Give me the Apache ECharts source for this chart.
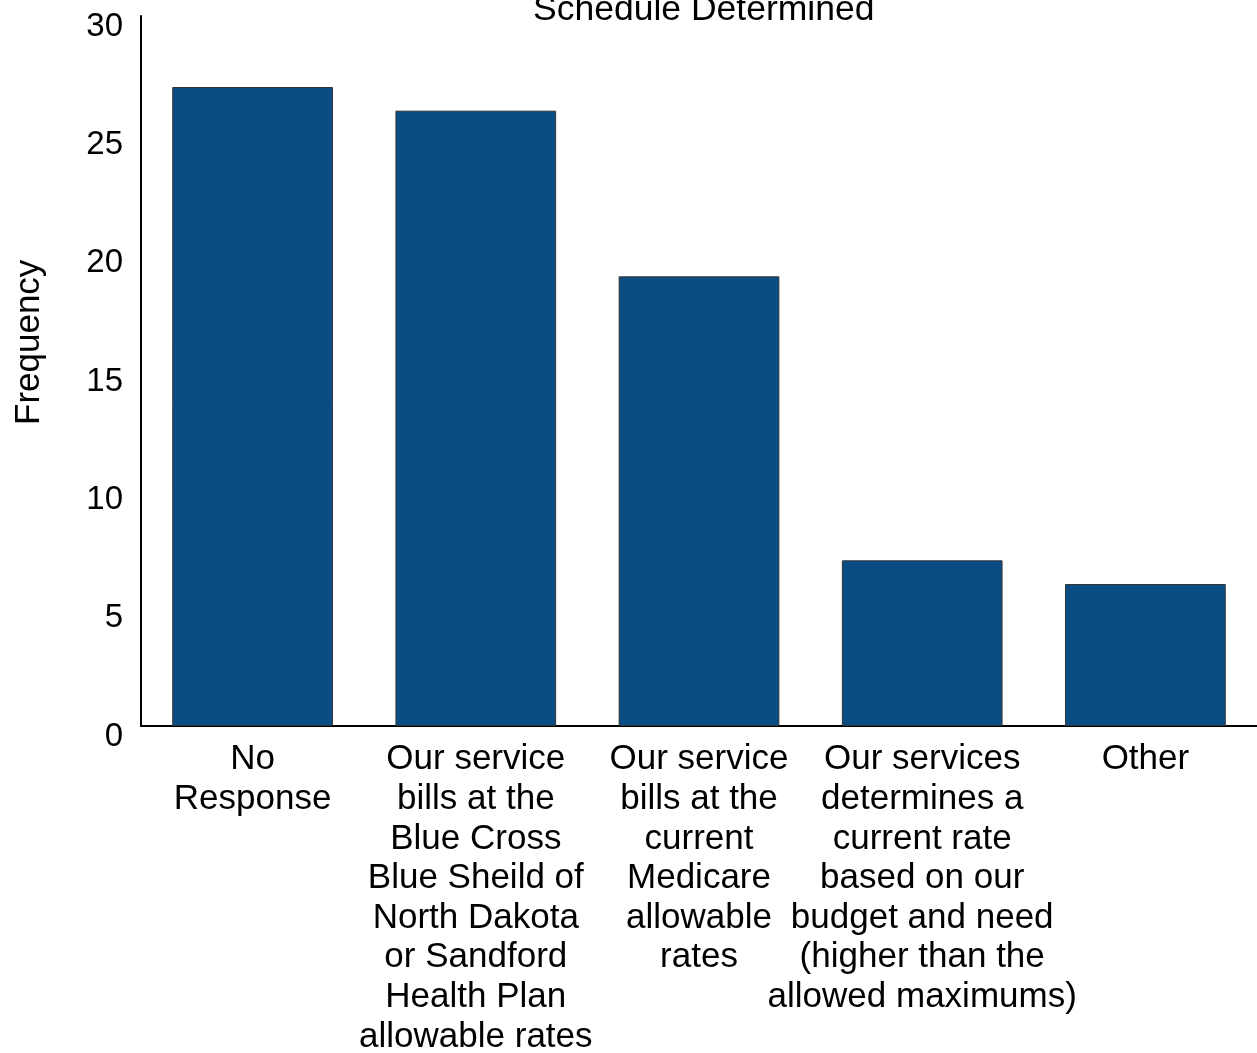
<!DOCTYPE html>
<html>
<head>
<meta charset="utf-8">
<script src="https://cdn.jsdelivr.net/npm/echarts@6/dist/echarts.min.js"></script>
<style>
    html, body { margin: 0; padding: 0; background: #fff; }
    #chart { width: 1257px; height: 1053px; }
</style>
</head>
<body>
<div id="chart"></div>
<script>
// 类别与数值
var categories = [
    'No\nResponse',
    'Our service\nbills at the\nBlue Cross\nBlue Sheild of\nNorth Dakota\nor Sandford\nHealth Plan\nallowable rates',
    'Our service\nbills at the\ncurrent\nMedicare\nallowable\nrates',
    'Our services\ndetermines a\ncurrent rate\nbased on our\nbudget and need\n(higher than the\nallowed maximums)',
    'Other'
];
var frequency = [27, 26, 19, 7, 6];
var yTicks = [0, 5, 10, 15, 20, 25, 30];

var FONT = '"Liberation Sans", Arial, sans-serif';

let chart = echarts.init(document.getElementById('chart'));

let option = {
    animation: false,
    textStyle: { fontFamily: FONT },
    grid: {
        left: 141,
        right: 0,
        top: 16,
        bottom: 327,
        containLabel: false,
        outerBoundsMode: 'none'
    },
    graphic: [
        {
            type: 'text',
            left: 533,
            top: -8,
            style: {
                text: 'Schedule Determined',
                font: '35.5px ' + FONT,
                fill: '#000'
            }
        },
        {
            type: 'text',
            x: 12,
            y: 425,
            rotation: Math.PI / 2,
            style: {
                text: 'Frequency',
                font: '35px ' + FONT,
                fill: '#000'
            }
        }
    ],
    xAxis: {
        type: 'category',
        data: categories,
        axisLine: { show: true, lineStyle: { color: '#000', width: 2 } },
        axisTick: { show: false },
        axisLabel: {
            interval: 0,
            color: '#000',
            fontSize: 35,
            lineHeight: 39.6,
            margin: 14,
            fontFamily: FONT
        }
    },
    yAxis: {
        type: 'value',
        min: yTicks[0],
        max: yTicks[yTicks.length - 1],
        interval: 5,
        splitLine: { show: false },
        axisLine: { show: true, lineStyle: { color: '#000', width: 2 } },
        axisTick: { show: false },
        axisLabel: {
            color: '#000',
            margin: 18,
            formatter: '{v|{value}}',
            rich: {
                v: {
                    fontSize: 33,
                    fontFamily: FONT,
                    color: '#000',
                    padding: [21, 0, 0, 0]
                }
            }
        }
    },
    series: [{
        type: 'bar',
        data: frequency,
        barWidth: '72%',
        itemStyle: {
            color: '#0A4D85',
            borderColor: '#333',
            borderWidth: 1
        }
    }]
};

chart.setOption(option);
</script>
</body>
</html>
